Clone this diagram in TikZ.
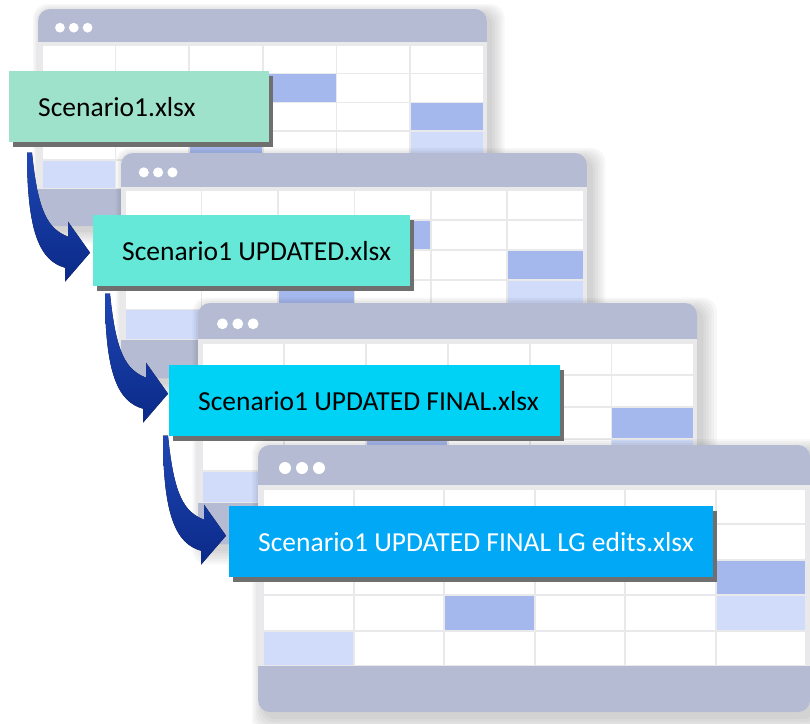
\documentclass[tikz,border=0pt]{standalone}
\usepackage{fontspec}
\setmainfont{Carlito}
\usetikzlibrary{shadows}

\definecolor{barcol}{HTML}{B4BBD2}
\definecolor{bodycol}{HTML}{E9E9EC}
\definecolor{cellmid}{HTML}{A5B8EE}
\definecolor{celllight}{HTML}{D0DCFA}
\definecolor{mintcol}{HTML}{9FE2CC}
\definecolor{aquacol}{HTML}{66E8D8}
\definecolor{cyancol}{HTML}{00D2F5}
\definecolor{skycol}{HTML}{00A8F5}
\definecolor{fshadow}{HTML}{6F6F6F}
\definecolor{arrowtop}{HTML}{1E46B4}
\definecolor{arrowbot}{HTML}{0B2A88}

\tikzset{
  fname/.style={anchor=north west, minimum height=71pt, inner xsep=29pt, inner ysep=0pt,
    align=flush left, text width=#1, font=\fontsize{27.5}{33}\selectfont,
    drop shadow={shadow xshift=4pt, shadow yshift=-5pt, fill=fshadow, opacity=1}},
}

% spreadsheet window: #1 x, #2 y (from top), #3 scale
\newcommand{\sheet}[3]{%
  \begin{scope}[shift={(#1,-#2)}, scale=#3]
    \foreach \k in {1,...,6}
      \fill[black, opacity=0.03, rounded corners=14pt] (6-2*\k,-6+2*\k) rectangle (556+3*\k,-271-3*\k);
    \fill[barcol, rounded corners=12pt] (0,0) rectangle (552,-267);
    \fill[bodycol] (0,-40) rectangle (552,-221);
    \foreach \c in {0,...,5}
      \foreach \r in {0,...,4}
        \fill[white] (6+90.5*\c,-45-35.4*\r) rectangle (94.5+90.5*\c,-78.4-35.4*\r);
    \foreach \c/\r/\col in {3/1/cellmid, 5/2/cellmid, 2/3/cellmid, 5/3/celllight, 0/4/celllight}
      \fill[\col] (6+90.5*\c,-45-35.4*\r) rectangle (94.5+90.5*\c,-78.4-35.4*\r);
    \foreach \d in {27,44,61}
      \fill[white] (\d,-23) circle (6);
  \end{scope}}

% bent arrow, tip at #1
\newcommand{\bendarrow}[1]{%
  \fill[top color=arrowtop, bottom color=arrowbot, shift={(#1)}]
    (-63,100) -- (-58,100) .. controls (-52,40) and (-42,24) .. (-22,16) -- (-22,31) -- (0,0)
    -- (-25,-29) -- (-25,-15) .. controls (-50,-8) and (-63,20) .. (-63,100) -- cycle;}

\begin{document}
\begin{tikzpicture}[x=1pt, y=1pt]
  \useasboundingbox (0,0) rectangle (810,-723);
  \sheet{38}{9}{0.813}
  \node[fname=202pt, fill=mintcol] (v1) at (9,-71) {\mbox{Scenario1.xlsx}};
  \sheet{121}{153}{0.844}
  \node[fname=259pt, fill=aquacol] (v2) at (93,-215) {\mbox{Scenario1 UPDATED.xlsx}};
  \bendarrow{[xshift=-3pt,yshift=-2pt]v2.west}
  \sheet{198}{303}{0.904}
  \node[fname=333pt, fill=cyancol] (v3) at (169,-365) {\mbox{Scenario1 UPDATED FINAL.xlsx}};
  \bendarrow{[xshift=-1pt,yshift=7pt]v3.west}
  \sheet{258}{445}{1}
  \node[fname=426pt, fill=skycol, text=white] (v4) at (229,-506) {\mbox{Scenario1 UPDATED FINAL LG edits.xlsx}};
  \bendarrow{[xshift=-3pt,yshift=6pt]v4.west}
\end{tikzpicture}
\end{document}
